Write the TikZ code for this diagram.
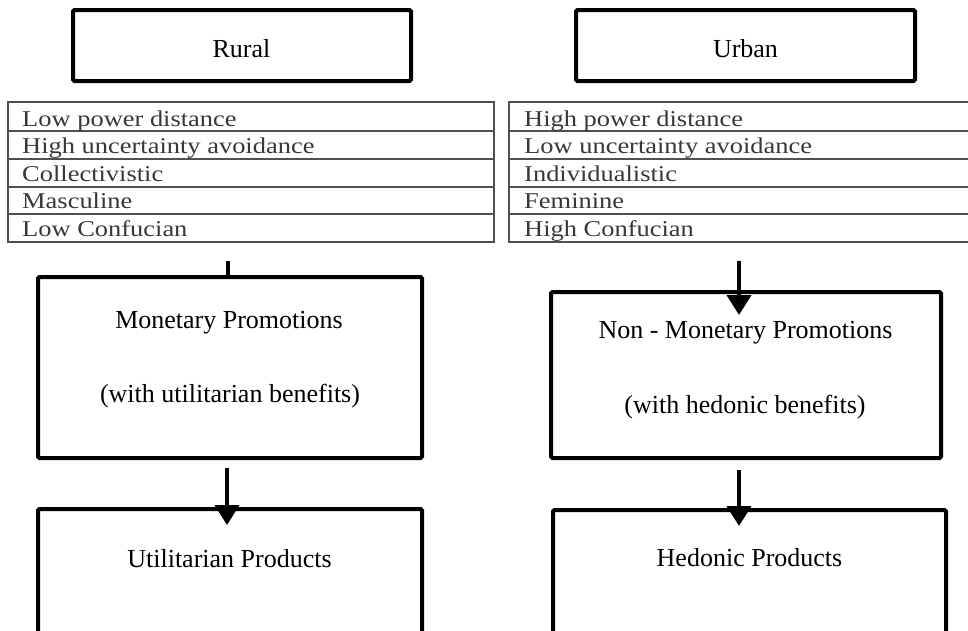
\documentclass[tikz,border=0pt]{standalone}
\usepackage{fontspec}
\setmainfont{Liberation Serif}
\usetikzlibrary{arrows.meta}
\definecolor{tabline}{HTML}{505050}
\definecolor{tabtext}{HTML}{383838}
\tikzset{
  bigbox/.style={draw=black, line width=4pt, rounded corners=1.5pt, fill=none, inner sep=0pt},
  maintext/.style={font=\fontsize{26}{31}\selectfont, anchor=base, inner sep=0pt},
  tabtxt/.style={font=\fontsize{22.6}{27}\selectfont, text=tabtext, anchor=base west, inner sep=0pt, xscale=1.17, transform shape},
  tabframe/.style={draw=tabline, line width=1.3pt},
  conn/.style={line width=4pt},
  arr/.style={line width=4pt, -{Triangle[width=24pt,length=20pt]}}
}
\begin{document}
\begin{tikzpicture}[x=1pt,y=-1pt]
\useasboundingbox (0,0) rectangle (968,630);
\clip (0,0) rectangle (968,630);
\fill[white] (0,0) rectangle (968,630);

% top boxes
\node[bigbox, minimum width=338pt, minimum height=71pt] (rural) at (242,45.5) {};
\node[bigbox, minimum width=339pt, minimum height=71pt] (urban) at (745.5,45.5) {};
\node[maintext] (ruralt) at (241.5,57) {Rural};
\node[maintext] (urbant) at (745.5,57) {Urban};

% tables
\node[tabframe, rectangle, minimum width=486pt, minimum height=140pt, inner sep=0pt] (tabL) at (251,172) {};
\node[tabframe, rectangle, minimum width=480pt, minimum height=140pt, inner sep=0pt] (tabR) at (749,172) {};
\foreach \yy in {131,159,187,214}{
  \draw[tabframe] (tabL.west |- 0,\yy) -- (tabL.east |- 0,\yy);
  \draw[tabframe] (tabR.west |- 0,\yy) -- (tabR.east |- 0,\yy);
}
\node[tabtxt] (l1) at (22,126.5) {Low power distance};
\node[tabtxt] (l2) at (22,153) {High uncertainty avoidance};
\node[tabtxt] (l3) at (22,181) {Collectivistic};
\node[tabtxt] (l4) at (22,208) {Masculine};
\node[tabtxt] (l5) at (22,236.5) {Low Confucian};
\node[tabtxt] (r1) at (524,126.5) {High power distance};
\node[tabtxt] (r2) at (524,153) {Low uncertainty  avoidance};
\node[tabtxt] (r3) at (524,181) {Individualistic};
\node[tabtxt] (r4) at (524,208) {Feminine};
\node[tabtxt] (r5) at (524,236.5) {High Confucian};

% promotion boxes
\node[bigbox, minimum width=384pt, minimum height=181pt] (mon) at (230,367.5) {};
\node[bigbox, minimum width=390pt, minimum height=166pt] (nonmon) at (746,375) {};
\node[maintext] (mont1) at (229,328) {Monetary Promotions};
\node[maintext] (mont2) at (230,402) {(with utilitarian benefits)};
\node[maintext] (nont1) at (745.5,338) {Non - Monetary Promotions};
\node[maintext] (nont2) at (745,413) {(with hedonic benefits)};

% product boxes (cut off at the bottom)
\node[bigbox, minimum width=384pt, minimum height=180pt] (util) at (230,599) {};
\node[bigbox, minimum width=393pt, minimum height=180pt] (hed) at (749.5,600) {};
\node[maintext] (utilt) at (229.5,567) {Utilitarian Products};
\node[maintext] (hedt) at (749.5,566) {Hedonic Products};

% connectors
\coordinate (sL) at (228,261);
\coordinate (sR) at (739,261);
\coordinate (sL2) at (227,468);
\coordinate (sR2) at (739,470);
\draw[conn] (sL) -- (sL |- mon.north);
\draw[arr] (sR) -- ([yshift=-25pt]sR |- nonmon.north);
\draw[arr] (sL2) -- ([yshift=-18pt]sL2 |- util.north);
\draw[arr] (sR2) -- ([yshift=-18pt]sR2 |- hed.north);
\end{tikzpicture}
\end{document}
